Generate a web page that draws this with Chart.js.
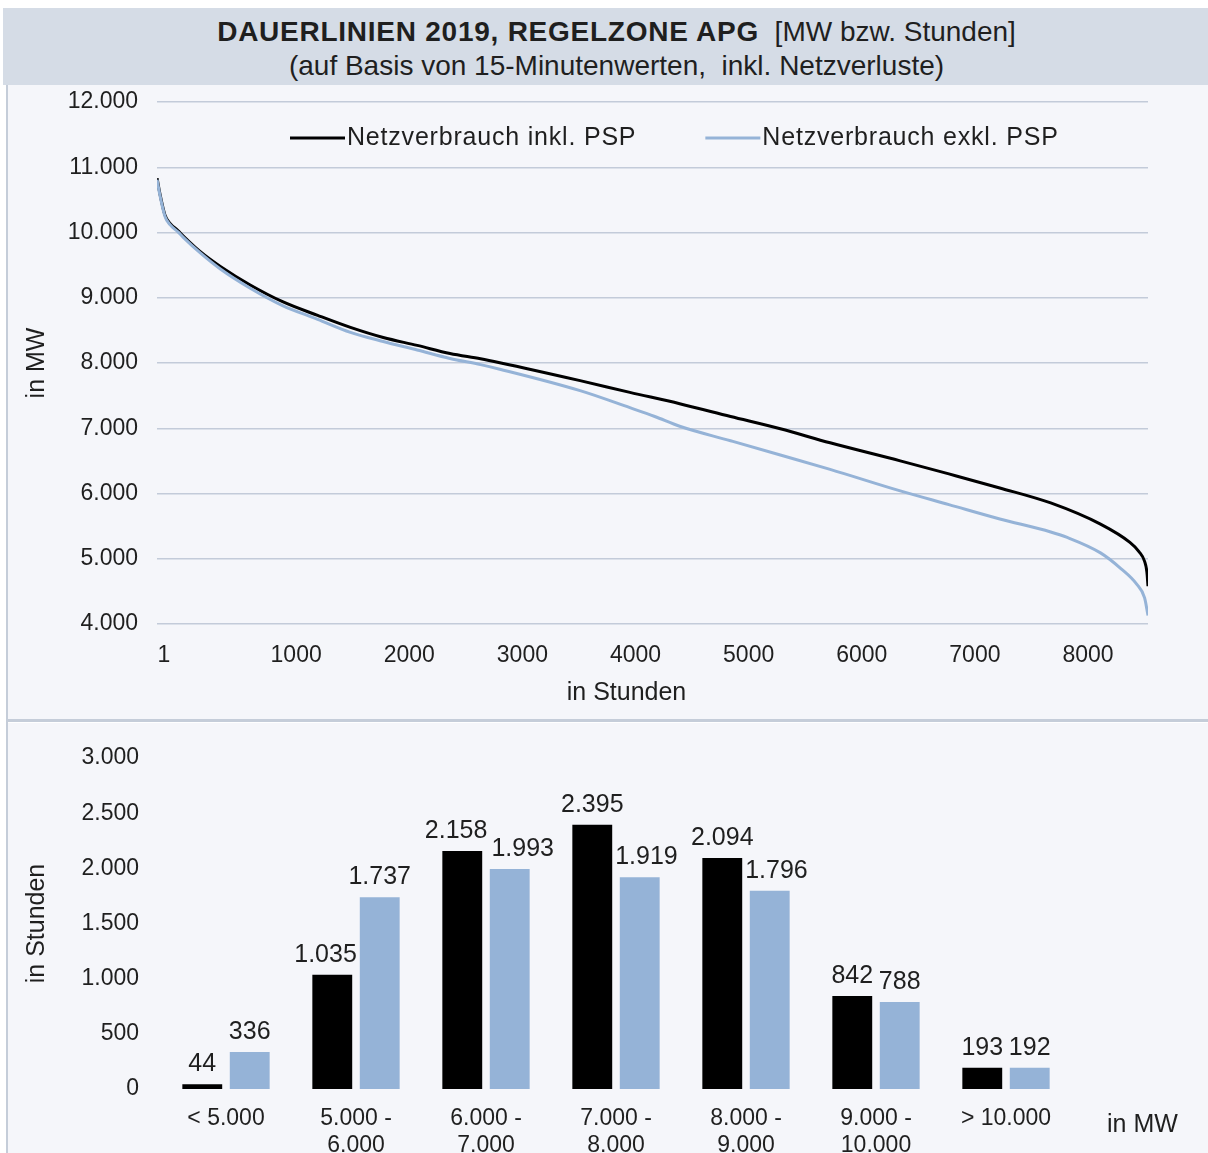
<!DOCTYPE html>
<html>
<head>
<meta charset="utf-8">
<script src="https://cdn.jsdelivr.net/npm/chart.js@4.4.1/dist/chart.umd.min.js"></script>
<style>
  body { margin:0; width:1208px; height:1153px; overflow:hidden; background:#fff; font-family:"Liberation Sans", Arial, sans-serif; color:#1f1f1f; }
  #head { position:absolute; left:3px; top:8px; width:1205px; height:77px; background:#d5dce6; }
  #head div { position:absolute; left:22px; right:0; text-align:center; font-size:28px; line-height:34px; white-space:pre; }
  #head .l1 { top:7px; }
  #head .l1 b { letter-spacing:0.75px; }
  #head .l2 { top:41px; }
  #leftLine { position:absolute; left:6px; top:85px; width:2px; height:1068px; background:#c5cdd9; }
  #topBox { position:absolute; left:8px; top:85px; width:1200px; height:635px; background:#f5f6fa; }
  #sep { position:absolute; left:8px; top:719px; width:1200px; height:3px; background:#c5cdd9; }
  #botBox { position:absolute; left:8px; top:723px; width:1200px; height:480px; background:#f5f6fa; }
  canvas { display:block; }
</style>
</head>
<body>
<div id="head">
  <div class="l1"><b>DAUERLINIEN 2019, REGELZONE APG</b>  [MW bzw. Stunden]</div>
  <div class="l2">(auf Basis von 15-Minutenwerten,  inkl. Netzverluste)</div>
</div>
<div id="leftLine"></div>
<div id="topBox"><canvas id="lineChart" width="1200" height="635"></canvas></div>
<div id="sep"></div>
<div id="botBox"><canvas id="barChart" width="1200" height="480"></canvas></div>
<script>
// Dauerlinie: Stunden (sortiert) und Last in MW
const hoursInkl = [1, 25, 70, 115, 185, 230, 380, 560, 820, 1110, 1420, 1710, 2000, 2300, 2590, 2860, 3030, 3740, 4180, 4620, 5070, 5510, 5950, 6570, 7000, 7450, 7900, 8340, 8600, 8680, 8730, 8750, 8760];
const mwInkl = [10830, 10600, 10270, 10140, 10030, 9950, 9710, 9480, 9200, 8940, 8730, 8545, 8390, 8270, 8145, 8065, 8005, 7730, 7550, 7376, 7180, 6992, 6777, 6500, 6300, 6085, 5855, 5530, 5250, 5110, 4960, 4800, 4580];

const hoursExkl = [1, 25, 70, 115, 185, 230, 380, 560, 820, 1110, 1420, 1710, 2000, 2300, 2590, 2860, 3030, 3740, 4180, 4400, 4620, 5070, 5510, 5950, 6570, 7000, 7450, 7900, 8040, 8340, 8520, 8660, 8730, 8760];
const mwExkl = [10810, 10580, 10250, 10120, 10010, 9930, 9690, 9440, 9150, 8880, 8670, 8470, 8330, 8200, 8070, 7975, 7905, 7576, 7315, 7180, 7030, 6808, 6590, 6370, 6040, 5830, 5610, 5410, 5330, 5090, 4850, 4610, 4400, 4130];

const hourTicks = [1, 1000, 2000, 3000, 4000, 5000, 6000, 7000, 8000];

// Häufigkeit je Leistungsklasse (Stunden)
const classes = [['< 5.000'], ['5.000 -', '6.000'], ['6.000 -', '7.000'], ['7.000 -', '8.000'], ['8.000 -', '9.000'], ['9.000 -', '10.000'], ['> 10.000']];
const stundenInkl = [44, 1035, 2158, 2395, 2094, 842, 193];
const stundenExkl = [336, 1737, 1993, 1919, 1796, 788, 192];

const BLACK = '#000000';
const BLUE = '#95b3d7';
const TXT = '#1f1f1f';
const FONT = '"Liberation Sans", Arial, sans-serif';

Chart.defaults.font.family = FONT;
Chart.defaults.color = TXT;

function fmt(v) {
  return String(Math.round(v)).replace(/\B(?=(\d{3})+(?!\d))/g, '.');
}

// legend inside the plot area, first hour label and axis title
const lineExtras = {
  id: 'lineExtras',
  afterDraw(chart) {
    const {ctx, chartArea} = chart;
    ctx.save();
    ctx.font = '25px ' + FONT;
    ctx.letterSpacing = '0.8px';
    ctx.textBaseline = 'middle';
    let x = chartArea.left + 133;
    const y = chartArea.top + 36;
    chart.data.datasets.forEach(ds => {
      ctx.fillStyle = ds.borderColor;
      ctx.fillRect(x, y - 1.5, 55, 3);
      x += 57;
      ctx.fillStyle = TXT;
      ctx.fillText(ds.label, x, y);
      x += ctx.measureText(ds.label).width + 69;
    });
    ctx.letterSpacing = '0px';
    ctx.fillStyle = TXT;
    ctx.textAlign = 'center';
    ctx.font = '23px ' + FONT;
    ctx.fillText(String(hourTicks[0]), chartArea.left + 7, chartArea.bottom + 32);
    ctx.font = '25px ' + FONT;
    ctx.fillText('in Stunden', (chartArea.left + chartArea.right) / 2 - 26, chartArea.bottom + 69);
    ctx.restore();
  }
};

new Chart(document.getElementById('lineChart'), {
  type: 'line',
  data: {
    datasets: [
      {
        label: 'Netzverbrauch inkl. PSP',
        data: hoursInkl.map((h, i) => ({x: h, y: mwInkl[i]})),
        borderColor: BLACK, backgroundColor: BLACK, borderWidth: 3,
        pointRadius: 0, cubicInterpolationMode: 'monotone', order: 1
      },
      {
        label: 'Netzverbrauch exkl. PSP',
        data: hoursExkl.map((h, i) => ({x: h, y: mwExkl[i]})),
        borderColor: BLUE, backgroundColor: BLUE, borderWidth: 3,
        pointRadius: 0, cubicInterpolationMode: 'monotone', order: 0
      }
    ]
  },
  options: {
    responsive: false,
    animation: false,
    layout: {padding: {top: 17, right: 60, left: 0, bottom: 0}},
    plugins: {legend: {display: false}, tooltip: {enabled: false}},
    scales: {
      x: {
        type: 'linear', min: 0, max: 8760,
        grid: {display: false, drawTicks: false},
        border: {display: false},
        afterBuildTicks: s => { s.ticks = hourTicks.map(v => ({value: v})); },
        afterFit: s => { s.height = 96; },
        // first label ("1") is drawn by lineExtras at the left edge
        ticks: {font: {size: 23}, padding: 18, labelOffset: 26, maxRotation: 0, autoSkip: false,
                callback: v => (v === hourTicks[0] ? '' : String(v))}
      },
      y: {
        min: 4000, max: 12000,
        ticks: {stepSize: 1000, font: {size: 23}, padding: 0, callback: v => fmt(v)},
        grid: {color: '#c3cbd9', lineWidth: 1.5, drawTicks: true, tickLength: 19, tickColor: 'rgba(0,0,0,0)'},
        border: {display: false},
        afterFit: s => { s.width = 149; },
        title: {display: true, text: 'in MW', font: {size: 25}, padding: {top: 14, bottom: 0}}
      }
    }
  },
  plugins: [lineExtras]
});

// value labels above bars, kept clear of the neighbour bar and of each other
const barValueLabels = {
  id: 'barValueLabels',
  afterDatasetsDraw(chart) {
    const {ctx, chartArea} = chart;
    ctx.save();
    ctx.font = '25px ' + FONT;
    ctx.fillStyle = TXT;
    ctx.textAlign = 'center';
    ctx.textBaseline = 'middle';
    const m0 = chart.getDatasetMeta(0), m1 = chart.getDatasetMeta(1);
    m0.data.forEach((b0, i) => {
      const b1 = m1.data[i];
      const t0 = fmt(chart.data.datasets[0].data[i]);
      const t1 = fmt(chart.data.datasets[1].data[i]);
      let x0 = b0.x, x1 = b1.x;
      const y0 = b0.y - 20, y1 = b1.y - 20;
      const w0 = ctx.measureText(t0).width, w1 = ctx.measureText(t1).width;
      // keep off the taller neighbour bar
      if (y0 + 12 > b1.y) x0 = Math.min(x0, b1.x - b1.width / 2 - 3 - w0 / 2);
      if (y1 + 12 > b0.y) x1 = Math.max(x1, b0.x + b0.width / 2 + 3 + w1 / 2);
      const over = (x0 + w0 / 2 + 4) - (x1 - w1 / 2);
      if (over > 0 && Math.abs(y0 - y1) < 26) { x0 -= over / 2; x1 += over / 2; }
      ctx.fillText(t0, x0, y0);
      ctx.fillText(t1, x1, y1);
    });
    ctx.textAlign = 'left';
    ctx.fillText('in MW', chartArea.right + 36, chartArea.bottom + 36);
    ctx.restore();
  }
};

new Chart(document.getElementById('barChart'), {
  type: 'bar',
  data: {
    labels: classes,
    datasets: [
      {label: 'Netzverbrauch inkl. PSP', data: stundenInkl, backgroundColor: BLACK},
      {label: 'Netzverbrauch exkl. PSP', data: stundenExkl, backgroundColor: BLUE}
    ]
  },
  options: {
    responsive: false,
    animation: false,
    layout: {padding: {top: 35, right: 137, left: 0, bottom: 0}},
    datasets: {bar: {barPercentage: 0.84, categoryPercentage: 0.73}},
    plugins: {legend: {display: false}, tooltip: {enabled: false}},
    scales: {
      x: {
        grid: {display: false, drawTicks: false},
        border: {display: false},
        afterFit: s => { s.height = 114; },
        ticks: {font: {size: 23, lineHeight: 1.17}, padding: 16, maxRotation: 0, autoSkip: false}
      },
      y: {
        min: 0, max: 3000,
        grid: {display: false, drawTicks: true, tickLength: 22},
        border: {display: false},
        afterFit: s => { s.width = 153; },
        ticks: {stepSize: 500, font: {size: 23}, padding: 0, callback: v => fmt(v)},
        title: {display: true, text: 'in Stunden', font: {size: 25}, padding: {top: 14, bottom: 0}}
      }
    }
  },
  plugins: [barValueLabels]
});
</script>
</body>
</html>
